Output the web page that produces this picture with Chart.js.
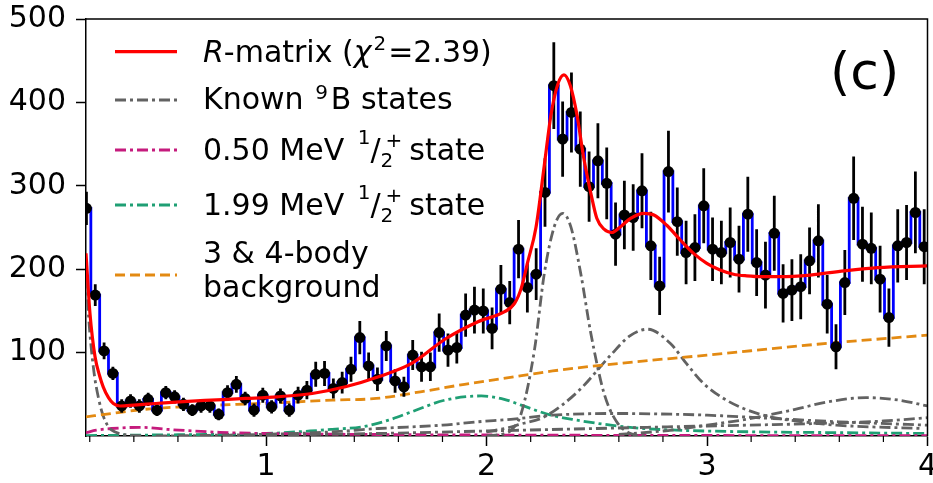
<!DOCTYPE html>
<html><head><meta charset="utf-8">
<script src="https://cdn.jsdelivr.net/npm/chart.js@4/dist/chart.umd.min.js"></script>
<style>html,body{margin:0;padding:0;background:#fff;}#c{display:block;}</style>
</head><body>
<canvas id="c" width="933" height="483"></canvas>
<script>
// ---- data ----
const energies = [0.185,0.225,0.265,0.305,0.345,0.385,0.425,0.465,0.505,0.545,
 0.585,0.625,0.665,0.705,0.745,0.785,0.825,0.865,0.905,0.945,
 0.985,1.025,1.065,1.105,1.145,1.185,1.225,1.265,1.305,1.345,
 1.385,1.425,1.465,1.505,1.545,1.585,1.625,1.665,1.705,1.745,
 1.785,1.825,1.865,1.905,1.945,1.985,2.025,2.065,2.105,2.145,
 2.185,2.225,2.265,2.305,2.345,2.385,2.425,2.465,2.505,2.545,
 2.585,2.625,2.665,2.705,2.745,2.785,2.825,2.865,2.905,2.945,
 2.985,3.025,3.065,3.105,3.145,3.185,3.225,3.265,3.305,3.345,
 3.385,3.425,3.465,3.505,3.545,3.585,3.625,3.665,3.705,3.745,
 3.785,3.825,3.865,3.905,3.945,3.985];
const counts = [273,169,102,75,36,42,36,44,31,52,
 47,38,31,36,36,26,52,62,45,31,
 49,35,48,31,49,55,74,75,57,64,
 80,118,84,68,108,66,59,97,83,83,
 124,103,106,145,151,150,129,176,160,224,
 178,194,292,420,356,388,344,299,330,303,
 242,265,262,294,228,180,317,257,220,226,
 276,224,220,232,212,266,208,193,243,171,
 175,179,210,234,158,107,184,285,230,225,
 188,142,228,232,268,227];
const errors = [20,13,10,8,8,8,8,8,7,8,
 8,8,7,8,8,7,9,10,8,8,
 9,8,9,8,10,11,15,15,12,13,
 15,20,16,14,18,14,12,18,18,17,
 23,20,19,26,28,27,25,29,26,35,
 30,31,41,52,45,48,45,42,45,43,
 38,41,40,45,41,35,49,41,38,40,
 45,38,38,42,40,45,40,40,45,35,
 37,39,40,44,35,27,39,50,45,43,
 40,35,44,45,49,45];

const rmatrixE = [0.183,0.201,0.224,0.245,0.261,0.285,0.307,0.337,0.4,0.5,0.607,0.75,0.908,1.05,1.209,1.36,1.51,1.66,1.811,1.961,2.082,2.127,2.157,2.187,2.224,2.262,2.292,2.322,2.351,2.38,2.41,2.441,2.473,2.5,2.533,2.568,2.608,2.653,2.714,2.759,2.816,2.879,2.939,2.999,3.059,3.12,3.18,3.247,3.33,3.468,3.622,3.775,4.0];
const rmatrixV = [219,147,95,72,59,46,39,36,37,39,41,43,45,47,51,59,71,87,116,137,149,159,177,209,250,325,385,421,433,420,385,333,291,261,248,244,251,261,267,265,253,235,219,207,199,194,192,191,191,193,198,202,204];

const bgE = [0.183,0.3,0.45,0.62,0.87,1.07,1.3,1.5,1.7,1.9,2.1,2.3,2.6,3.0,3.5,4.0];
const bgV = [23,27,32,35,38,40,43,45,53,62,70,78,87,97,110,121];

const known1E = [0.183,0.2,0.22,0.24,0.26,0.28,0.3,0.35,0.45];
const known1V = [190,125,75,45,25,13,7,2,0];
const known2E = [2.0,2.082,2.112,2.157,2.217,2.262,2.307,2.345,2.382,2.427,2.473,2.533,2.59,2.653,2.72];
const known2V = [0,3,7,27,103,195,251,267,251,195,123,51,17,3,0];
const known3E = [2.0,2.1,2.15,2.262,2.413,2.563,2.65,2.73,2.834,2.906,2.984,3.075,3.165,3.285,3.436,3.586,3.978];
const known3V = [5,10,14,23,53,97,120,128,111,87,63,45,33,23,17,13,9];
const known4E = [0.5,0.8,1.0,1.3,1.51,1.8,1.96,2.11,2.3,2.6,2.86,3.0,3.3,3.6,4.0];
const known4V = [0,1,2,5,9,13,17,20,25,27,26,25,21,17,13];
const known5E = [2.6,2.8,3.0,3.2,3.4,3.55,3.72,3.87,4.0];
const known5V = [2,6,13,21,32,41,46,43,36];
const known6E = [0.8,1.0,1.5,2.0,2.5,3.0,3.5,3.8,4.0];
const known6V = [0,1,3,6,9,12,15,18,22];

const state050E = [0.183,0.23,0.3,0.43,0.55,0.67,0.79,0.88,1.0,1.5,2.0,3.0,4.0];
const state050V = [4,7,9,10.4,8,6,4.4,3.6,3,1.8,1.2,0.6,0.4];
const state199E = [0.183,0.6,1.0,1.2,1.3,1.435,1.555,1.66,1.811,1.976,2.08,2.157,2.292,2.41,2.563,2.714,2.86,3.2,3.6,4.0];
const state199V = [0.5,1.5,3,6,8,11,19,29,43,48,44,37,25,19,13,9,7,5,4,3];

const xTicks = [0.2,0.4,0.6,0.8,1.0,1.2,1.4,1.6,1.8,2.0,2.2,2.4,2.6,2.8,3.0,3.2,3.4,3.6,3.8,4.0];
const yTicks = [100,200,300,400,500];

// ---- styles ----
const FONT = "'DejaVu Sans'";
const GRAY = '#626262', PINK = '#c51b7d', GREEN = '#1f9f74', ORANGE = '#e38a12';
const DASHDOT = [11,4,3,4], DASHED = [10,5];

const pts = (xs, ys) => xs.map((x, i) => ({x: x, y: ys[i]}));
const errData = [];
energies.forEach((e, i) => {
  errData.push({x: e, y: counts[i] - errors[i]}, {x: e, y: counts[i] + errors[i]}, {x: e, y: null});
});
const curve = (xs, ys, color, dash, width, order) => ({
  type: 'line', data: pts(xs, ys), borderColor: color, borderWidth: width,
  borderDash: dash, pointRadius: 0, fill: false, tension: 0.4,
  cubicInterpolationMode: 'monotone', order: order
});
const isMajor = v => Math.abs(v - Math.round(v)) < 1e-6;

const framePlugin = {
  id: 'frame',
  afterDraw(chart) {
    const ctx = chart.ctx, a = chart.chartArea, xs = chart.scales.x;
    ctx.save();
    ctx.strokeStyle = '#000'; ctx.lineWidth = 1.5;
    ctx.beginPath();
    ctx.moveTo(a.left, a.top); ctx.lineTo(a.right, a.top); ctx.lineTo(a.right, a.bottom);
    ctx.stroke();
    // minor ticks
    ctx.lineWidth = 1.2;
    xTicks.forEach(v => {
      if (isMajor(v)) return;
      const px = xs.getPixelForValue(v);
      ctx.beginPath(); ctx.moveTo(px, a.bottom); ctx.lineTo(px, a.bottom + 6); ctx.stroke();
    });
    // legend
    const rows = [
      {y: 51.7, color: '#ff0000', dash: [], w: 3.2},
      {y: 100, color: GRAY, dash: DASHDOT, w: 2.8},
      {y: 150, color: PINK, dash: DASHDOT, w: 2.8},
      {y: 205, color: GREEN, dash: DASHDOT, w: 2.8},
      {y: 275, color: ORANGE, dash: DASHED, w: 2.8}
    ];
    rows.forEach(r => {
      ctx.strokeStyle = r.color; ctx.lineWidth = r.w; ctx.setLineDash(r.dash);
      ctx.beginPath(); ctx.moveTo(115, r.y); ctx.lineTo(177, r.y); ctx.stroke();
    });
    ctx.setLineDash([]);
    ctx.fillStyle = '#000'; ctx.textBaseline = 'alphabetic'; ctx.textAlign = 'left';
    const rich = (x, y, parts) => {
      let cx = x;
      parts.forEach(p => {
        cx += (p.dx || 0);
        ctx.font = (p.it ? 'italic ' : '') + (p.s || 30) + 'px ' + FONT;
        ctx.fillText(p.t, cx, y + (p.dy || 0));
        if (p.adv !== false) cx += ctx.measureText(p.t).width;
      });
    };
    rich(203, 62, [{t: 'R', it: true}, {t: '-matrix ('}, {t: 'χ', it: true}, {t: '2', s: 20, dy: -12, dx: 2}, {t: '=2.39)', dx: 2}]);
    rich(203, 109, [{t: 'Known '}, {t: '9', s: 20, dy: -10, dx: 2}, {t: 'B states', dx: 3}]);
    const half = lab => [{t: lab + ' '}, {t: '1', s: 20, dy: -16, dx: 4}, {t: '/'}, {t: '2', s: 20, dy: 7, adv: false}, {t: '+', s: 20, dy: -13, dx: 5}, {t: 'state', dx: 7}];
    rich(203, 160, half('0.50 MeV'));
    rich(203, 215, half('1.99 MeV'));
    rich(203, 263, [{t: '3 & 4-body'}]);
    rich(203, 297, [{t: 'background'}]);
    ctx.font = '52px ' + FONT;
    ctx.fillText('(c)', 830, 89);
    ctx.restore();
  }
};

new Chart(document.getElementById('c'), {
  data: {
    datasets: [
      curve(rmatrixE, rmatrixV, '#ff0000', [], 3.2, 0),
      {type: 'scatter', data: pts(energies, counts), pointRadius: 5.5, pointBackgroundColor: '#000', pointBorderWidth: 0, showLine: false, order: 1},
      {type: 'line', data: errData, borderColor: '#000', borderWidth: 2.8, pointRadius: 0, spanGaps: false, tension: 0, order: 2},
      {type: 'line', data: pts(energies, counts), borderColor: '#0000ff', borderWidth: 2.8, pointRadius: 0, stepped: 'middle', order: 3},
      curve(bgE, bgV, ORANGE, DASHED, 2.8, 4),
      curve(known1E, known1V, GRAY, DASHDOT, 2.8, 5),
      curve(known2E, known2V, GRAY, DASHDOT, 2.8, 5),
      curve(known3E, known3V, GRAY, DASHDOT, 2.8, 5),
      curve(known4E, known4V, GRAY, DASHDOT, 2.8, 5),
      curve(known5E, known5V, GRAY, DASHDOT, 2.8, 5),
      curve(known6E, known6V, GRAY, DASHDOT, 2.8, 5),
      curve(state050E, state050V, PINK, DASHDOT, 2.8, 6),
      curve(state199E, state199V, GREEN, DASHDOT, 2.8, 6)
    ]
  },
  options: {
    responsive: false, animation: false, devicePixelRatio: 1,
    layout: {padding: {top: 19, right: 2, left: 0, bottom: 0}},
    plugins: {legend: {display: false}, tooltip: {enabled: false}},
    scales: {
      x: {
        type: 'linear', min: 0.183, max: 4.0,
        afterBuildTicks: s => { s.ticks = xTicks.map(v => ({value: v})); },
        afterFit: s => { s.height = 47; s.paddingLeft = 0; s.paddingRight = 0; },
        grid: {display: true, drawOnChartArea: false, drawTicks: true, tickLength: 10,
               tickColor: c => (c.tick && isMajor(c.tick.value)) ? '#000' : 'rgba(0,0,0,0)', tickWidth: 1.5},
        border: {display: true, color: '#000', width: 1.5},
        ticks: {font: {family: FONT, size: 30}, color: '#000', padding: 3, maxRotation: 0, autoSkip: false,
                callback: v => isMajor(v) ? String(Math.round(v)) : ''}
      },
      y: {
        type: 'linear', min: 0, max: 500,
        afterBuildTicks: s => { s.ticks = yTicks.map(v => ({value: v})); },
        afterFit: s => { s.width = 86; s.paddingTop = 0; s.paddingBottom = 0; },
        grid: {display: true, drawOnChartArea: false, drawTicks: true, tickLength: 10, tickColor: '#000', tickWidth: 1.5},
        border: {display: true, color: '#000', width: 1.5},
        ticks: {font: {family: FONT, size: 30}, color: '#000', padding: 10}
      }
    }
  },
  plugins: [framePlugin]
});
</script>
</body></html>
